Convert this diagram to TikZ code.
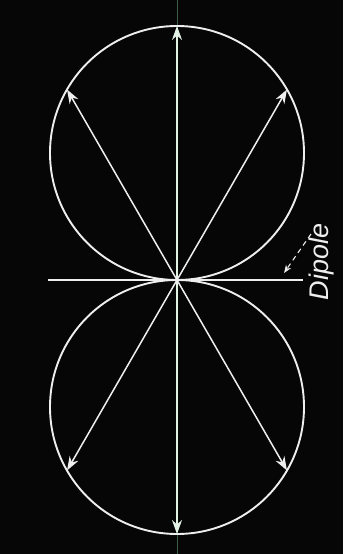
\documentclass[tikz,border=0pt]{standalone}
\usepackage{fontspec}
\setsansfont{Liberation Sans}
\usepackage{tikz}
\usepackage{xcolor}
\usetikzlibrary{arrows.meta, positioning, calc}
\definecolor{bgdark}{HTML}{060606}
\definecolor{linewhite}{HTML}{EEEEEE}
\definecolor{axisgreen}{HTML}{3C5E48}
\definecolor{axislight}{HTML}{E2F2E4}

\begin{document}
\begin{tikzpicture}[x=1pt, y=1pt,
    lobe/.style={draw=linewhite, line width=1.9pt},
    ray/.style={draw=linewhite, line width=1.5pt, -{Stealth[length=14pt, width=10pt]}},
    vray/.style={draw=axislight, line width=1.5pt, -{Stealth[length=14pt, width=10pt]}},
    label/.style={font=\sffamily\itshape\fontsize{27}{27}\selectfont, text=linewhite, inner sep=0pt}]
    \fill[bgdark] (0,0) rectangle (343,554);
    \useasboundingbox (0,0) rectangle (343,554);
    % centre and lobe centres
    \coordinate (O) at (177,274);
    \coordinate (up) at (177,401);
    \coordinate (lo) at (177,147);
    % faint axis over the full height
    \coordinate (axtop) at (177,554);
    \coordinate (axbot) at (177,0);
    \draw[axisgreen, line width=1pt] (axtop) -- (axbot);
    % the two lobes
    \draw[lobe] (up) circle (127);
    \draw[lobe] (lo) circle (127);
    % dipole line
    \coordinate (dl) at (48,274);
    \coordinate (dr) at (303,274);
    \draw[linewhite, line width=1.9pt] (dl) -- (dr);
    % rays
    \draw[vray] (O) -- ($(up)+(90:127)$);
    \draw[vray] (O) -- ($(lo)+(-90:127)$);
    \draw[ray] (O) -- ($(up)+(30:127)$);
    \draw[ray] (O) -- ($(up)+(150:127)$);
    \draw[ray] (O) -- ($(lo)+(-30:127)$);
    \draw[ray] (O) -- ($(lo)+(-150:127)$);
    % label
    \node[label, rotate=90] (dip) at (322,292) {Dipole};
    \coordinate (dtail) at (311,320);
    \coordinate (dtip) at (284,281);
    \draw[linewhite, line width=1.1pt, dash pattern=on 5pt off 4pt, -{Stealth[length=8pt, width=6pt]}] (dtail) -- (dtip);
\end{tikzpicture}
\end{document}
